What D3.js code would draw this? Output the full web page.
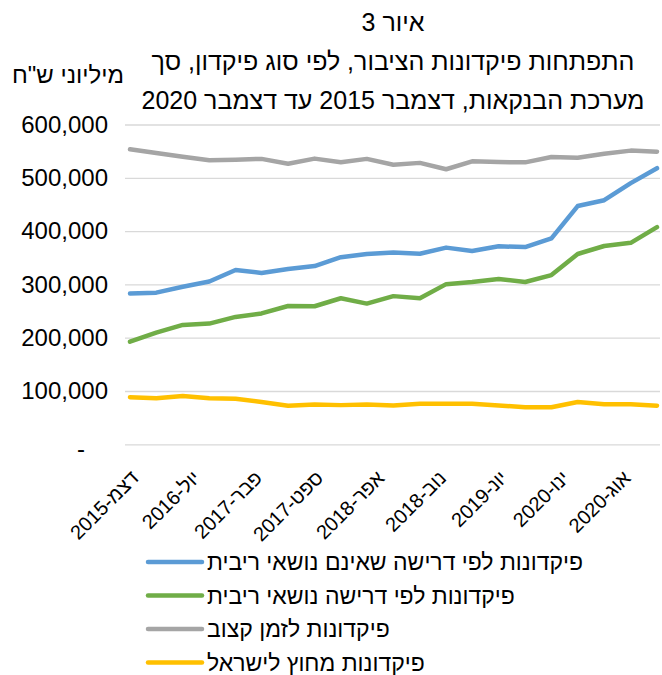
<!DOCTYPE html>
<html>
<head>
<meta charset="utf-8">
<script src="https://cdn.jsdelivr.net/npm/d3@7"></script>
<style>
  body { margin: 0; background: #fff; }
  svg { display: block; }
  text { font-family: "Liberation Sans", Arial, sans-serif; fill: #000; }
</style>
</head>
<body>
<div id="chart"></div>
<script>
// quarterly observations, Dec 2015 - Dec 2020 (NIS millions)
const months = ["2015-12","2016-03","2016-06","2016-09","2016-12","2017-03","2017-06","2017-09","2017-12",
  "2018-03","2018-06","2018-09","2018-12","2019-03","2019-06","2019-09","2019-12","2020-03","2020-06","2020-09","2020-12"]
const demandNoInterest = [283000,284500,295500,305500,327000,321500,329000,334500,351000,357000,360000,357500,
  369000,362500,371500,370000,386500,447000,458000,490000,518000]
const demandInterest = [192500,209500,224000,226500,239000,245500,259500,259000,274000,264000,278000,274000,
  300500,304500,310000,304500,317500,357000,372000,378000,407500]
const fixedTerm = [553500,546500,539500,533000,534000,535500,526500,536000,529000,535500,524500,528000,
  516000,531000,529500,529000,539000,537500,545000,551000,549000]
const foreignCurrency = [88500,86500,90500,86500,85500,79500,72500,74500,73500,74500,73000,76000,
  76000,76000,73000,69500,69500,79500,75000,75000,72500]

const seriesNames = ["פיקדונות לפי דרישה שאינם נושאי ריבית", "פיקדונות לפי דרישה נושאי ריבית",
  "פיקדונות לזמן קצוב", "פיקדונות מחוץ לישראל"]
const seriesColors = ["#5B9BD5", "#70AD47", "#A5A5A5", "#FFC000"]

const tickMonths = ["2015-12","2016-07","2017-02","2017-09","2018-04","2018-11","2019-06","2020-01","2020-08"]
const tickLabels = ["דצמ-2015","יול-2016","פבר-2017","ספט-2017","אפר-2018","נוב-2018","יונ-2019","ינו-2020","אוג-2020"]

const titleLines = ["איור 3", "התפתחות פיקדונות הציבור, לפי סוג פיקדון, סך", "מערכת הבנקאות, דצמבר 2015 עד דצמבר 2020"]
const unitLabel = "מיליוני ש\"ח"

// layout
const WIDTH = 662, HEIGHT = 675
const PLOT = {LEFT: 125, RIGHT: 660, TOP: 124.5, BOTTOM: 444.3}

const parseMonth = d3.timeParse("%Y-%m")
const dates = months.map(parseMonth)
const allSeries = [demandNoInterest, demandInterest, fixedTerm, foreignCurrency]

const svg = d3.select("#chart").append("svg")
    .attr("width", WIDTH)
    .attr("height", HEIGHT)

const x = d3.scaleTime()
    .domain([parseMonth("2015-12"), parseMonth("2020-12")])
    .range([130, 657])

const y = d3.scaleLinear()
    .domain([0, 600000])
    .range([PLOT.BOTTOM, PLOT.TOP])

// title
svg.append("g").selectAll("text")
    .data(titleLines)
    .join("text")
    .attr("x", 393)
    .attr("y", (d, i) => 31 + i * 39)
    .attr("text-anchor", "middle")
    .style("font-size", "25px")
    .text(d => d)

svg.append("text")
    .attr("x", 12)
    .attr("y", 83)
    .style("font-size", "24px")
    .text(unitLabel)

// y axis with gridlines
const yAxis = svg.append("g")
    .attr("transform", `translate(${PLOT.LEFT},0)`)
    .call(d3.axisLeft(y)
        .tickValues(d3.range(0, 600001, 100000))
        .tickSize(-(PLOT.RIGHT - PLOT.LEFT))
        .tickPadding(17)
        .tickFormat(d => d === 0 ? "-" : d3.format(",")(d)))
yAxis.select(".domain").remove()
yAxis.selectAll(".tick line").attr("stroke", "#D9D9D9").attr("stroke-width", 1.3)
yAxis.selectAll(".tick text")
    .style("font-size", "24px")
    .style("font-family", "\"Liberation Sans\", Arial, sans-serif")
    .attr("fill", "#000")
yAxis.selectAll(".tick text").filter(d => d === 0)
    .attr("text-anchor", "middle")
    .attr("x", -44)
    .attr("dy", "0.5em")

// x axis labels (rotated)
svg.append("g").selectAll("text")
    .data(tickMonths)
    .join("text")
    .attr("transform", d => `translate(${x(parseMonth(d)) + 5},${PLOT.BOTTOM + 30}) rotate(-45)`)
    .attr("text-anchor", "end")
    .attr("dy", "0.35em")
    .style("font-size", "20px")
    .text((d, i) => tickLabels[i])

// lines
const line = d3.line()
    .x((d, i) => x(dates[i]))
    .y(d => y(d))

svg.append("g").selectAll("path")
    .data(allSeries)
    .join("path")
    .attr("d", line)
    .attr("fill", "none")
    .attr("stroke", (d, i) => seriesColors[i])
    .attr("stroke-width", 4.5)
    .attr("stroke-linejoin", "round")
    .attr("stroke-linecap", "round")

// legend
const legend = svg.append("g").selectAll("g")
    .data(seriesNames)
    .join("g")
    .attr("transform", (d, i) => `translate(0,${562 + i * 33.5})`)

legend.append("line")
    .attr("x1", 148).attr("x2", 202)
    .attr("stroke", (d, i) => seriesColors[i])
    .attr("stroke-width", 4.5)
    .attr("stroke-linecap", "round")

legend.append("text")
    .attr("x", 207)
    .attr("dy", "0.35em")
    .style("font-size", "23px")
    .text(d => d)
</script>
</body>
</html>
